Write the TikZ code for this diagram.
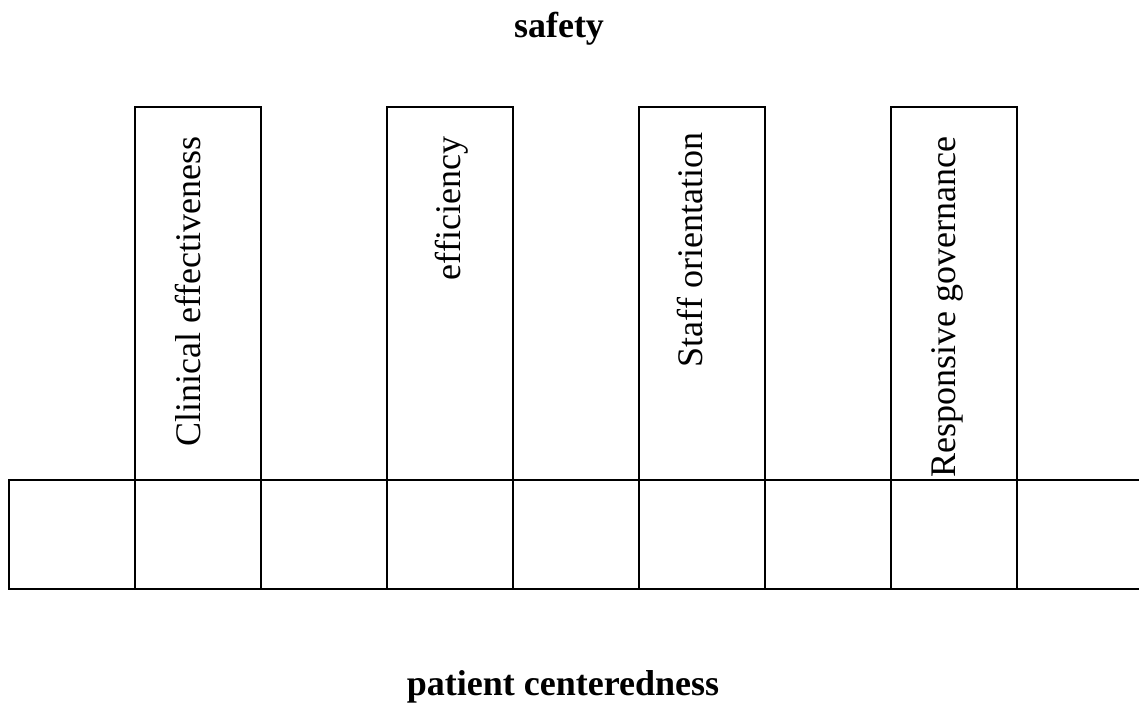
\documentclass[tikz,border=0pt]{standalone}
\usepackage{fontspec}
\setmainfont{Liberation Serif}
\begin{document}
\begin{tikzpicture}[x=1pt,y=-1pt,
  line width=1.5pt,
  pillar/.style={draw, rectangle, inner sep=0pt, outer sep=0pt, minimum width=126pt, minimum height=373pt, anchor=north west},
  cell/.style={draw, rectangle, inner sep=0pt, outer sep=0pt, minimum width=126pt, minimum height=109pt, anchor=north west},
  vlabel/.style={rotate=90, anchor=base east, inner sep=0pt, font=\fontsize{36}{43}\selectfont},
  title/.style={anchor=base, inner sep=0pt, font=\fontsize{36}{43}\selectfont\bfseries}]
\useasboundingbox (0,0) rectangle (1139,702);
% bottom row
\node[cell] (c0) at (9,480) {};
\node[cell] (c1) at (135,480) {};
\node[cell] (c2) at (261,480) {};
\node[cell] (c3) at (387,480) {};
\node[cell] (c4) at (513,480) {};
\node[cell] (c5) at (639,480) {};
\node[cell] (c6) at (765,480) {};
\node[cell] (c7) at (891,480) {};
\coordinate (re1) at (1139,480);
\coordinate (re2) at (1139,589);
\draw (c7.north east) -- (re1);
\draw (c7.south east) -- (re2);
% pillars
\node[pillar] (p1) at (135,107) {};
\node[pillar] (p2) at (387,107) {};
\node[pillar] (p3) at (639,107) {};
\node[pillar] (p4) at (891,107) {};
% labels
\node[vlabel] (l1) at (200,136) {Clinical effectiveness};
\node[vlabel] (l2) at (460,136) {efficiency};
\node[vlabel] (l3) at (702,132) {Staff orientation};
\node[vlabel] (l4) at (955,136) {Responsive governance};
\node[title] (safety) at (559,37) {safety};
\node[title] (pc) at (563,695) {patient centeredness};
\end{tikzpicture}
\end{document}
